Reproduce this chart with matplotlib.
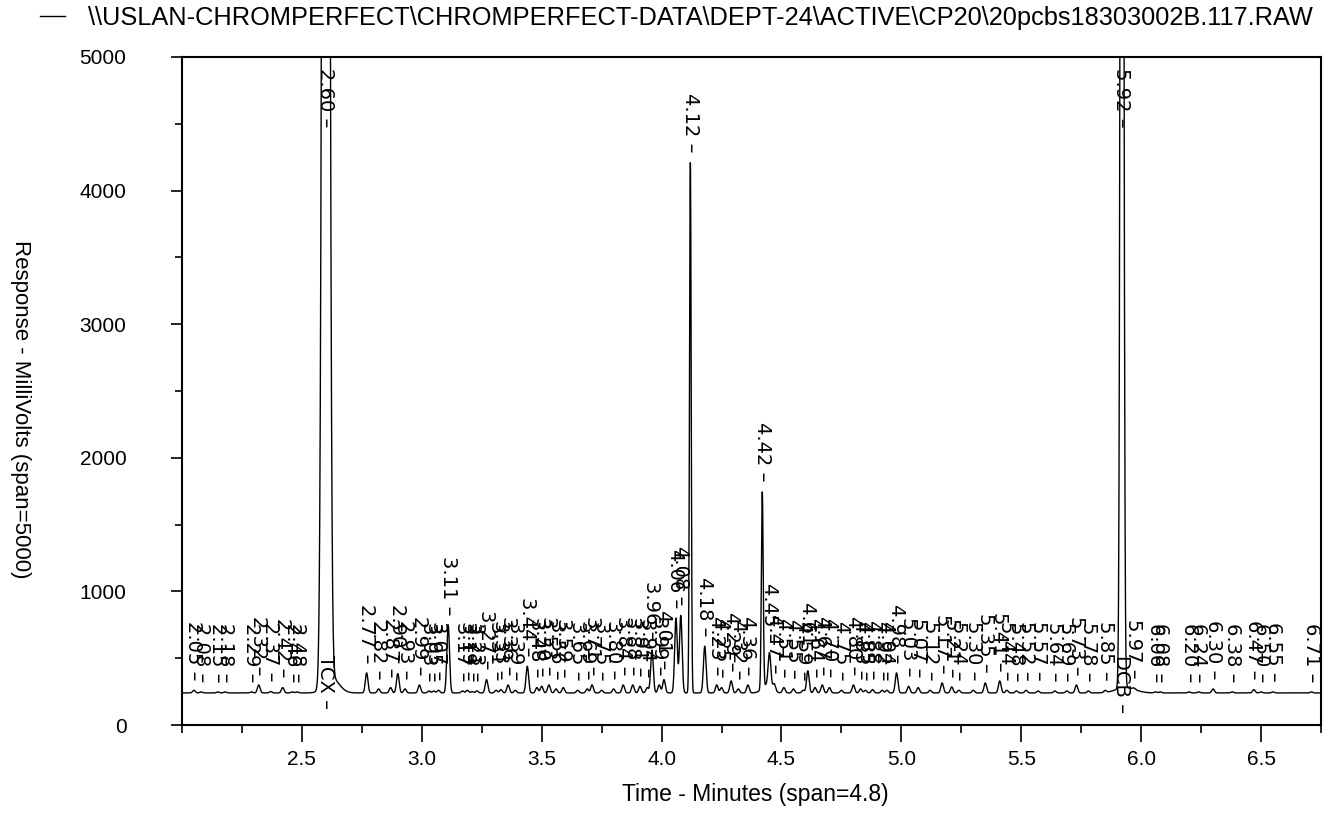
import numpy as np
import matplotlib
matplotlib.use("Agg")
import matplotlib.pyplot as plt
from matplotlib.ticker import FixedLocator, MultipleLocator

plt.rcParams['font.family'] = ['Liberation Sans', 'DejaVu Sans']

# run file shown above the trace
source_file = r"\\USLAN-CHROMPERFECT\CHROMPERFECT-DATA\DEPT-24\ACTIVE\CP20\20pcbs18303002B.117.RAW"

# detector baseline (mV)
baseline_mv = 240

# integrated peaks: retention time (min) and height above baseline (mV)
peak_times = [2.05, 2.08, 2.15, 2.18, 2.29, 2.32, 2.37, 2.42, 2.46, 2.48,
              2.60,
              2.77, 2.82, 2.87, 2.90, 2.93, 2.99, 3.03, 3.05, 3.07, 3.11,
              3.17, 3.19, 3.21, 3.23, 3.27, 3.31, 3.33, 3.36, 3.39, 3.44,
              3.48, 3.50, 3.53, 3.56, 3.59, 3.65, 3.69, 3.71, 3.75, 3.80,
              3.84, 3.88, 3.91, 3.94, 3.96, 3.99, 4.01, 4.06, 4.08, 4.12,
              4.18, 4.23, 4.25, 4.29, 4.32, 4.36, 4.42, 4.45, 4.47, 4.51,
              4.55, 4.59, 4.61, 4.64, 4.67, 4.70, 4.75, 4.80, 4.83, 4.85,
              4.88, 4.92, 4.94, 4.98, 5.03, 5.07, 5.12, 5.17, 5.21, 5.24,
              5.30, 5.35, 5.41, 5.44, 5.48, 5.52, 5.57, 5.64, 5.69, 5.73,
              5.78, 5.85,
              5.92,
              5.97, 6.06, 6.08, 6.20, 6.24, 6.30, 6.38, 6.47, 6.50, 6.55, 6.71]
peak_heights = [20, 8, 8, 8, 8, 60, 10, 40, 8, 8,
                25000,
                150, 30, 40, 145, 30, 60, 15, 15, 20, 510,
                15, 20, 10, 15, 100, 20, 25, 60, 20, 200,
                40, 50, 60, 30, 40, 20, 30, 60, 20, 30,
                60, 60, 50, 40, 320, 60, 100, 560, 580, 3970,
                350, 60, 40, 90, 30, 60, 1470, 250, 50, 40,
                30, 20, 165, 40, 60, 40, 20, 60, 30, 20,
                25, 20, 20, 150, 50, 40, 20, 75, 45, 20,
                20, 75, 90, 20, 15, 20, 15, 15, 15, 60,
                15, 15,
                15000,
                10, 8, 8, 8, 8, 30, 8, 25, 8, 8, 8]

# peak widths (sigma, min) that differ from the usual one
default_sigma = 0.0055
sigma_override = {2.60: 0.0105, 4.12: 0.0035, 4.42: 0.0038, 5.92: 0.0058}

# unlabelled tailing under the big peaks
tail_times = [2.625, 4.44, 5.935]
tail_heights = [110, 60, 40]
tail_sigmas = [0.03, 0.02, 0.04]

# internal standards
std_times = [2.60, 5.92]
std_names = ["TCX", "DCB"]

x_ticks = [2.5, 3.0, 3.5, 4.0, 4.5, 5.0, 5.5, 6.0, 6.5]
y_ticks = [0, 1000, 2000, 3000, 4000, 5000]
x_range = (2.0, 6.75)
y_range = (0, 5000)


def gauss(t, t0, h, s):
    return h * np.exp(-0.5 * ((t - t0) / s) ** 2)


def response(t):
    out = np.full_like(np.asarray(t, dtype=float), baseline_mv, dtype=float)
    for t0, h in zip(peak_times, peak_heights):
        out = out + gauss(t, t0, h, sigma_override.get(t0, default_sigma))
    for t0, h, s in zip(tail_times, tail_heights, tail_sigmas):
        out = out + gauss(t, t0, h, s)
    return out


time = np.linspace(x_range[0], x_range[1], 8000)
signal = response(time)

fig = plt.figure(figsize=(13.31, 8.13), dpi=100)
ax = fig.add_axes([182 / 1331, 1 - 725 / 813, 1139 / 1331, 668 / 813])

line, = ax.plot(time, signal, color="black", lw=1.0, label=source_file)

ax.set_xlim(*x_range)
ax.set_ylim(*y_range)

label_font = dict(fontsize=14, family="DejaVu Sans")

# retention time labels above each peak
for t0 in peak_times:
    apex = float(response(np.array([t0]))[0])
    if apex > y_range[1]:
        ax.annotate(f"{t0:.2f} \u2013", xy=(t0, y_range[1]), xytext=(0, -8),
                    textcoords="offset points", rotation=270, ha="center",
                    va="top", **label_font)
    else:
        ax.annotate(f"{t0:.2f} \u2013", xy=(t0, apex), xytext=(0, 7),
                    textcoords="offset points", rotation=270, ha="center",
                    va="bottom", **label_font)

for t0, name in zip(std_times, std_names):
    ax.annotate(f"{name} \u2013", xy=(t0, baseline_mv), xytext=(0, 27),
                textcoords="offset points", rotation=270, ha="center",
                va="top", **label_font)

for side in ["left", "right", "top", "bottom"]:
    ax.spines[side].set_linewidth(1.5)

ax.xaxis.set_major_locator(FixedLocator(x_ticks))
ax.xaxis.set_minor_locator(MultipleLocator(0.25))
ax.yaxis.set_major_locator(FixedLocator(y_ticks))
ax.yaxis.set_minor_locator(MultipleLocator(500))
ax.set_xticklabels([f"{v:.1f}" for v in x_ticks])
ax.set_yticklabels([str(v) for v in y_ticks])
ax.tick_params(axis="x", which="major", length=12, width=1.2, pad=6, labelsize=15)
ax.tick_params(axis="x", which="minor", length=6, width=1.2)
ax.tick_params(axis="y", which="major", length=8, width=1.2, pad=32, labelsize=15)
ax.tick_params(axis="y", which="minor", length=5, width=1.2)

ax.set_xlabel("Time - Minutes (span=4.8)", fontsize=16.5)
ax.xaxis.set_label_coords(0.503, -0.087)
ax.set_ylabel("Response - MilliVolts (span=5000)", fontsize=16, rotation=270,
              va="center")
ax.yaxis.set_label_coords(-0.142, 0.472)

ax.legend(handles=[line], loc="center left", bbox_to_anchor=(-0.1247, 1.058),
          frameon=False, fontsize=18.3, handlelength=1.0, handletextpad=0.9,
          borderaxespad=0, borderpad=0)

fig.savefig("out.png", dpi=100)
